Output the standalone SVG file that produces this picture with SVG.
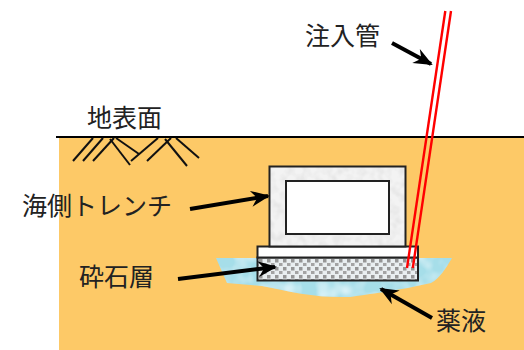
<svg xmlns="http://www.w3.org/2000/svg" width="524" height="350" viewBox="0 0 524 350">
  <defs>
    <style>
      .label { font-family: "Noto Sans CJK JP", "Noto Sans", sans-serif; font-size: 25px; fill: #222; }
      .hatch { stroke: #111; stroke-width: 2; stroke-linecap: butt; fill: none; }
      .arrow { stroke: #000; stroke-width: 4; fill: none; marker-end: url(#head); }
      .pipe { stroke: #ff0000; stroke-width: 2.4; fill: none; }
      .outline { stroke: #222; stroke-width: 2; }
    </style>
    <marker id="head" markerUnits="userSpaceOnUse" markerWidth="24" markerHeight="20" viewBox="-20 -10 24 20" refX="0" refY="0" orient="auto">
      <path d="M2,0 L-17,-8 L-11,0 L-17,8 Z" fill="#000"/>
    </marker>
    <!-- mottled concrete texture -->
    <filter id="concrete" x="0" y="0" width="100%" height="100%">
      <feTurbulence type="fractalNoise" baseFrequency="0.12" numOctaves="2" seed="3" result="n"/>
      <feColorMatrix in="n" type="matrix" values="0 0 0 0 0.72  0 0 0 0 0.72  0 0 0 0 0.72  0 0 0 -1.4 0.85" result="spots"/>
      <feComposite in="spots" in2="SourceGraphic" operator="in" result="clipped"/>
      <feMerge><feMergeNode in="SourceGraphic"/><feMergeNode in="clipped"/></feMerge>
    </filter>
    <!-- watery texture for the grout zone -->
    <filter id="water" x="0" y="0" width="100%" height="100%">
      <feTurbulence type="fractalNoise" baseFrequency="0.06" numOctaves="2" seed="7" result="n"/>
      <feColorMatrix in="n" type="matrix" values="0 0 0 0 0.78  0 0 0 0 0.93  0 0 0 0 0.97  0 0 0 -1.8 1.0" result="hl"/>
      <feComposite in="hl" in2="SourceGraphic" operator="in" result="clipped"/>
      <feMerge><feMergeNode in="SourceGraphic"/><feMergeNode in="clipped"/></feMerge>
    </filter>
    <pattern id="gravel" width="8" height="8" patternUnits="userSpaceOnUse" x="258" y="258">
      <rect width="8" height="8" fill="#e9eef0"/>
      <rect x="1" y="1" width="3.5" height="3.5" fill="#969696"/>
      <rect x="5" y="5" width="3.5" height="3.5" fill="#a3a3a3"/>
      <rect x="-3" y="5" width="3.5" height="3.5" fill="#a3a3a3"/>
    </pattern>
  </defs>

  <rect width="524" height="350" fill="#ffffff"/>

  <!-- ground -->
  <g id="ground">
    <rect x="59" y="137" width="465" height="213" fill="#fdc967"/>
    <line x1="56" y1="137" x2="524" y2="137" stroke="#000" stroke-width="2"/>
    <g class="hatch">
      <line x1="73" y1="161" x2="93" y2="138"/>
      <line x1="83" y1="161" x2="103" y2="138"/>
      <line x1="93" y1="161" x2="114" y2="138"/>
      <line x1="110" y1="139" x2="130" y2="165"/>
      <line x1="116" y1="138" x2="139" y2="154"/>
      <line x1="131" y1="161" x2="158" y2="138"/>
      <line x1="147" y1="161" x2="171" y2="138"/>
      <line x1="165" y1="139" x2="187" y2="166"/>
      <line x1="176" y1="138" x2="199" y2="158"/>
    </g>
  </g>

  <!-- grout zone -->
  <g id="grout">
    <path d="M216,258 L452,258 C446,268 440,278 431,283 C405,289 385,292 350,297 C315,298 292,292 262,286 L227,283 Z" fill="#a6dee9" filter="url(#water)"/>
  </g>

  <!-- crushed stone layer -->
  <g id="gravel-layer">
    <rect x="257.5" y="257.5" width="160.5" height="23" fill="url(#gravel)" class="outline"/>
  </g>

  <!-- base slab -->
  <g id="slab">
    <rect x="257.5" y="246.5" width="160.5" height="11" fill="#ffffff" class="outline"/>
  </g>

  <!-- seaside trench -->
  <g id="trench">
    <rect x="269.5" y="166.5" width="136" height="80" fill="#f3f3f3" filter="url(#concrete)"/>
    <rect x="269.5" y="166.5" width="136" height="80" fill="none" class="outline"/>
    <rect x="286" y="181" width="103" height="53" fill="#ffffff" class="outline"/>
  </g>

  <!-- injection pipe -->
  <g id="pipe">
    <line class="pipe" x1="445.3" y1="11" x2="407" y2="268"/>
    <line class="pipe" x1="451" y1="11" x2="412.8" y2="268"/>
  </g>

  <!-- leader arrows -->
  <g id="connectors">
    <line class="arrow" x1="392" y1="43" x2="431" y2="64"/>
    <line class="arrow" x1="190" y1="209" x2="268" y2="196"/>
    <line class="arrow" x1="178" y1="279" x2="275" y2="267"/>
    <line class="arrow" x1="432" y1="318" x2="381" y2="289"/>
  </g>

  <!-- labels -->
  <g id="labels">
    <text class="label" x="305" y="45">注入管</text>
    <text class="label" x="87" y="127">地表面</text>
    <text class="label" x="22" y="215">海側トレンチ</text>
    <text class="label" x="79" y="286">砕石層</text>
    <text class="label" x="436" y="330">薬液</text>
  </g>
</svg>
